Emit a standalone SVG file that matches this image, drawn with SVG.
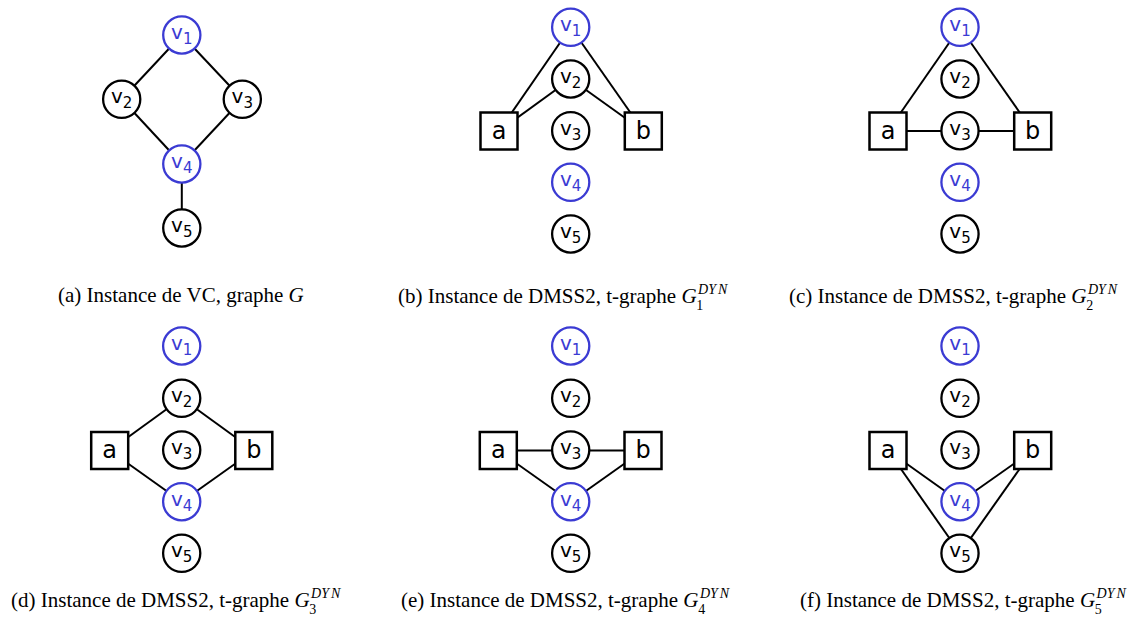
<svg xmlns="http://www.w3.org/2000/svg" width="1133" height="633" viewBox="0 0 1133 633">
<style>
.bg{fill:#ffffff}
.e{stroke:#000;stroke-width:2;fill:none}
.c{fill:#fff;stroke:#000;stroke-width:2.3}
.cb{fill:#fff;stroke:#3b3bd3;stroke-width:2.3}
.s{fill:#fff;stroke:#000;stroke-width:2.5}
.l{font-family:"DejaVu Sans","Liberation Sans",sans-serif;font-size:20px;fill:#000;text-anchor:middle}
.lb{font-family:"DejaVu Sans","Liberation Sans",sans-serif;font-size:20px;fill:#3b3bd3;text-anchor:middle}
.sl{font-family:"DejaVu Sans","Liberation Sans",sans-serif;font-size:24px;fill:#000;text-anchor:middle}
.sub{font-size:15px}
.cap{font-family:"Liberation Serif","Times New Roman",serif;font-size:21px;fill:#000}
.it{font-style:italic}
.sm{font-size:14px}
</style>
<rect class="bg" x="0" y="0" width="1133" height="633"/>
<g id="connectors">
  <line class="e" x1="181.8" y1="35" x2="121.7" y2="99.3"/>
  <line class="e" x1="181.8" y1="35" x2="242.3" y2="99.3"/>
  <line class="e" x1="121.7" y1="99.3" x2="181.8" y2="164"/>
  <line class="e" x1="242.3" y1="99.3" x2="181.8" y2="164"/>
  <line class="e" x1="181.8" y1="164" x2="181.8" y2="228"/>
  <line class="e" x1="570.7" y1="27.3" x2="499" y2="131"/>
  <line class="e" x1="570.7" y1="27.3" x2="643.3" y2="131"/>
  <line class="e" x1="570.7" y1="79" x2="499" y2="131"/>
  <line class="e" x1="570.7" y1="79" x2="643.3" y2="131"/>
  <line class="e" x1="960" y1="27.3" x2="888" y2="131"/>
  <line class="e" x1="960" y1="27.3" x2="1032.7" y2="131"/>
  <line class="e" x1="888" y1="131" x2="1032.7" y2="131"/>
  <line class="e" x1="181.7" y1="398.3" x2="109.7" y2="450.5"/>
  <line class="e" x1="181.7" y1="398.3" x2="253.8" y2="450.5"/>
  <line class="e" x1="181.7" y1="501.7" x2="109.7" y2="450.5"/>
  <line class="e" x1="181.7" y1="501.7" x2="253.8" y2="450.5"/>
  <line class="e" x1="498.3" y1="450.5" x2="643" y2="450.5"/>
  <line class="e" x1="570.7" y1="501.7" x2="498.3" y2="450.5"/>
  <line class="e" x1="570.7" y1="501.7" x2="643" y2="450.5"/>
  <line class="e" x1="960" y1="501.7" x2="888" y2="450.5"/>
  <line class="e" x1="960" y1="501.7" x2="1032.7" y2="450.5"/>
  <line class="e" x1="960" y1="553.3" x2="888" y2="450.5"/>
  <line class="e" x1="960" y1="553.3" x2="1032.7" y2="450.5"/>
</g>

<g id="a-v1"><circle class="cb" cx="181.8" cy="35" r="18.6"/><text class="lb" x="181.8" y="39">v<tspan class="sub" dy="5">1</tspan></text></g>
<g id="a-v2"><circle class="c" cx="121.7" cy="99.3" r="18.6"/><text class="l" x="121.7" y="103.3">v<tspan class="sub" dy="5">2</tspan></text></g>
<g id="a-v3"><circle class="c" cx="242.3" cy="99.3" r="18.6"/><text class="l" x="242.3" y="103.3">v<tspan class="sub" dy="5">3</tspan></text></g>
<g id="a-v4"><circle class="cb" cx="181.8" cy="164" r="18.6"/><text class="lb" x="181.8" y="168">v<tspan class="sub" dy="5">4</tspan></text></g>
<g id="a-v5"><circle class="c" cx="181.8" cy="228" r="18.6"/><text class="l" x="181.8" y="232">v<tspan class="sub" dy="5">5</tspan></text></g>

<g id="b-v1"><circle class="cb" cx="570.7" cy="27.3" r="18.6"/><text class="lb" x="570.7" y="31.3">v<tspan class="sub" dy="5">1</tspan></text></g>
<g id="b-v2"><circle class="c" cx="570.7" cy="79" r="18.6"/><text class="l" x="570.7" y="83">v<tspan class="sub" dy="5">2</tspan></text></g>
<g id="b-v3"><circle class="c" cx="570.7" cy="130.7" r="18.6"/><text class="l" x="570.7" y="134.7">v<tspan class="sub" dy="5">3</tspan></text></g>
<g id="b-v4"><circle class="cb" cx="570.7" cy="182.3" r="18.6"/><text class="lb" x="570.7" y="186.3">v<tspan class="sub" dy="5">4</tspan></text></g>
<g id="b-v5"><circle class="c" cx="570.7" cy="234" r="18.6"/><text class="l" x="570.7" y="238">v<tspan class="sub" dy="5">5</tspan></text></g>
<g id="b-a"><rect class="s" x="480.5" y="112.5" width="37" height="37"/><text class="sl" x="499" y="138.5">a</text></g>
<g id="b-b"><rect class="s" x="624.8" y="112.5" width="37" height="37"/><text class="sl" x="643.3" y="138.5">b</text></g>

<g id="c-v1"><circle class="cb" cx="960" cy="27.3" r="18.6"/><text class="lb" x="960" y="31.3">v<tspan class="sub" dy="5">1</tspan></text></g>
<g id="c-v2"><circle class="c" cx="960" cy="79" r="18.6"/><text class="l" x="960" y="83">v<tspan class="sub" dy="5">2</tspan></text></g>
<g id="c-v3"><circle class="c" cx="960" cy="130.7" r="18.6"/><text class="l" x="960" y="134.7">v<tspan class="sub" dy="5">3</tspan></text></g>
<g id="c-v4"><circle class="cb" cx="960" cy="182.3" r="18.6"/><text class="lb" x="960" y="186.3">v<tspan class="sub" dy="5">4</tspan></text></g>
<g id="c-v5"><circle class="c" cx="960" cy="234" r="18.6"/><text class="l" x="960" y="238">v<tspan class="sub" dy="5">5</tspan></text></g>
<g id="c-a"><rect class="s" x="869.5" y="112.5" width="37" height="37"/><text class="sl" x="888" y="138.5">a</text></g>
<g id="c-b"><rect class="s" x="1014.2" y="112.5" width="37" height="37"/><text class="sl" x="1032.7" y="138.5">b</text></g>

<g id="d-v1"><circle class="cb" cx="181.7" cy="346" r="18.6"/><text class="lb" x="181.7" y="350">v<tspan class="sub" dy="5">1</tspan></text></g>
<g id="d-v2"><circle class="c" cx="181.7" cy="398.3" r="18.6"/><text class="l" x="181.7" y="402.3">v<tspan class="sub" dy="5">2</tspan></text></g>
<g id="d-v3"><circle class="c" cx="181.7" cy="450" r="18.6"/><text class="l" x="181.7" y="454">v<tspan class="sub" dy="5">3</tspan></text></g>
<g id="d-v4"><circle class="cb" cx="181.7" cy="501.7" r="18.6"/><text class="lb" x="181.7" y="505.7">v<tspan class="sub" dy="5">4</tspan></text></g>
<g id="d-v5"><circle class="c" cx="181.7" cy="553.3" r="18.6"/><text class="l" x="181.7" y="557.3">v<tspan class="sub" dy="5">5</tspan></text></g>
<g id="d-a"><rect class="s" x="91.2" y="432" width="37" height="37"/><text class="sl" x="109.7" y="458">a</text></g>
<g id="d-b"><rect class="s" x="235.3" y="432" width="37" height="37"/><text class="sl" x="253.8" y="458">b</text></g>

<g id="e-v1"><circle class="cb" cx="570.7" cy="346" r="18.6"/><text class="lb" x="570.7" y="350">v<tspan class="sub" dy="5">1</tspan></text></g>
<g id="e-v2"><circle class="c" cx="570.7" cy="398.3" r="18.6"/><text class="l" x="570.7" y="402.3">v<tspan class="sub" dy="5">2</tspan></text></g>
<g id="e-v3"><circle class="c" cx="570.7" cy="450" r="18.6"/><text class="l" x="570.7" y="454">v<tspan class="sub" dy="5">3</tspan></text></g>
<g id="e-v4"><circle class="cb" cx="570.7" cy="501.7" r="18.6"/><text class="lb" x="570.7" y="505.7">v<tspan class="sub" dy="5">4</tspan></text></g>
<g id="e-v5"><circle class="c" cx="570.7" cy="553.3" r="18.6"/><text class="l" x="570.7" y="557.3">v<tspan class="sub" dy="5">5</tspan></text></g>
<g id="e-a"><rect class="s" x="479.8" y="432" width="37" height="37"/><text class="sl" x="498.3" y="458">a</text></g>
<g id="e-b"><rect class="s" x="624.5" y="432" width="37" height="37"/><text class="sl" x="643" y="458">b</text></g>

<g id="f-v1"><circle class="cb" cx="960" cy="346" r="18.6"/><text class="lb" x="960" y="350">v<tspan class="sub" dy="5">1</tspan></text></g>
<g id="f-v2"><circle class="c" cx="960" cy="398.3" r="18.6"/><text class="l" x="960" y="402.3">v<tspan class="sub" dy="5">2</tspan></text></g>
<g id="f-v3"><circle class="c" cx="960" cy="450" r="18.6"/><text class="l" x="960" y="454">v<tspan class="sub" dy="5">3</tspan></text></g>
<g id="f-v4"><circle class="cb" cx="960" cy="501.7" r="18.6"/><text class="lb" x="960" y="505.7">v<tspan class="sub" dy="5">4</tspan></text></g>
<g id="f-v5"><circle class="c" cx="960" cy="553.3" r="18.6"/><text class="l" x="960" y="557.3">v<tspan class="sub" dy="5">5</tspan></text></g>
<g id="f-a"><rect class="s" x="869.5" y="432" width="37" height="37"/><text class="sl" x="888" y="458">a</text></g>
<g id="f-b"><rect class="s" x="1014.2" y="432" width="37" height="37"/><text class="sl" x="1032.7" y="458">b</text></g>

<g id="captions">
<text class="cap" x="58" y="302">(a) Instance de VC, graphe <tspan class="it">G</tspan></text>
<text class="cap" x="398" y="303">(b) Instance de DMSS2, t-graphe <tspan class="it">G</tspan><tspan class="it sm" dx="1.5" dy="-9">DY<tspan dx="2">N</tspan></tspan><tspan class="sm" dx="-31" dy="15.5">1</tspan></text>
<text class="cap" x="789" y="303">(c) Instance de DMSS2, t-graphe <tspan class="it">G</tspan><tspan class="it sm" dx="1.5" dy="-9">DY<tspan dx="2">N</tspan></tspan><tspan class="sm" dx="-31" dy="15.5">2</tspan></text>
<text class="cap" x="11" y="607">(d) Instance de DMSS2, t-graphe <tspan class="it">G</tspan><tspan class="it sm" dx="1.5" dy="-9">DY<tspan dx="2">N</tspan></tspan><tspan class="sm" dx="-31" dy="15.5">3</tspan></text>
<text class="cap" x="401" y="607">(e) Instance de DMSS2, t-graphe <tspan class="it">G</tspan><tspan class="it sm" dx="1.5" dy="-9">DY<tspan dx="2">N</tspan></tspan><tspan class="sm" dx="-31" dy="15.5">4</tspan></text>
<text class="cap" x="800" y="607">(f) Instance de DMSS2, t-graphe <tspan class="it">G</tspan><tspan class="it sm" dx="1.5" dy="-9">DY<tspan dx="2">N</tspan></tspan><tspan class="sm" dx="-31" dy="15.5">5</tspan></text>
</g>
</svg>
